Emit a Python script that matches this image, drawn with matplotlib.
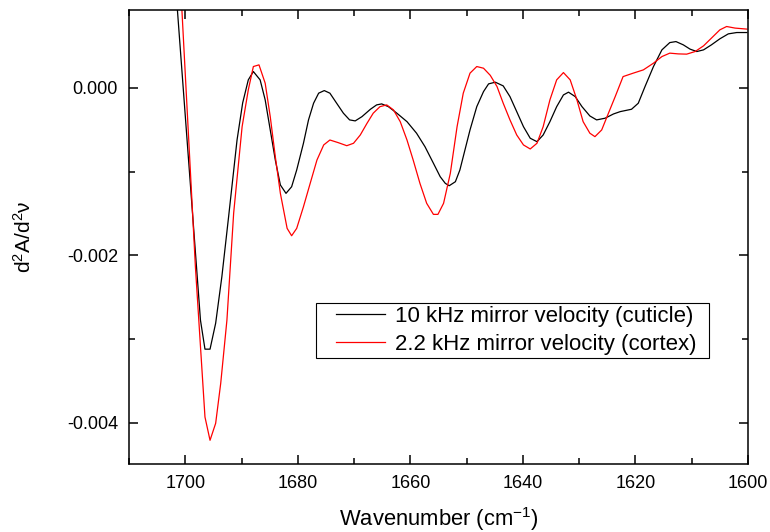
import numpy as np
import matplotlib
matplotlib.use("Agg")
import matplotlib.pyplot as plt
from matplotlib.ticker import MultipleLocator, FormatStrFormatter
from matplotlib.legend_handler import HandlerLine2D

plt.rcParams['font.family'] = ['Liberation Sans', 'DejaVu Sans']

# second derivative spectra (y in 1e-3 units)
wn_cuticle = [1702.0, 1701.4, 1697.3, 1696.5, 1695.6, 1694.6, 1693.5, 1692.3, 1690.8,
              1689.8, 1688.8, 1687.9, 1686.7, 1685.8, 1684.9, 1684.0, 1683.1, 1682.1,
              1681.1, 1680.2, 1679.0, 1678.1, 1677.2, 1676.3, 1675.3, 1674.3, 1673.1,
              1671.9, 1670.8, 1669.8, 1668.6, 1667.1, 1666.0, 1665.1, 1663.9, 1662.4,
              1660.6, 1658.9, 1657.4, 1655.9, 1654.7, 1653.8, 1653.1, 1652.0, 1651.2,
              1650.3, 1649.4, 1648.2, 1647.0, 1646.1, 1644.9, 1643.5, 1642.3, 1641.1,
              1639.9, 1638.7, 1637.5, 1636.4, 1635.2, 1634.0, 1632.8, 1631.9, 1630.7,
              1629.5, 1628.1, 1626.9, 1625.4, 1623.9, 1622.7, 1620.7, 1619.5, 1618.3,
              1616.8, 1615.3, 1613.9, 1612.8, 1611.5, 1610.3, 1609.1, 1607.9, 1606.5,
              1605.0, 1603.5, 1602.0, 1600.2]
d2_cuticle = [1.50, 0.932, -2.773, -3.119, -3.119, -2.809, -2.255, -1.538, -0.622,
              -0.179, 0.096, 0.195, 0.096, -0.143, -0.502, -0.861, -1.159, -1.259,
              -1.180, -0.980, -0.661, -0.382, -0.183, -0.063, -0.032, -0.063, -0.183,
              -0.302, -0.382, -0.394, -0.343, -0.255, -0.203, -0.191, -0.224, -0.302,
              -0.403, -0.541, -0.702, -0.900, -1.060, -1.139, -1.168, -1.120, -0.980,
              -0.741, -0.502, -0.224, -0.044, 0.048, 0.068, 0.024, -0.104, -0.283,
              -0.463, -0.601, -0.642, -0.562, -0.403, -0.224, -0.084, -0.051, -0.104,
              -0.224, -0.335, -0.382, -0.362, -0.311, -0.283, -0.255, -0.183, 0.016,
              0.255, 0.454, 0.541, 0.553, 0.514, 0.463, 0.434, 0.454, 0.514,
              0.586, 0.645, 0.661, 0.661]

wn_cortex = [1701.5, 1700.6, 1698.2, 1696.5, 1695.6, 1694.6, 1693.7, 1692.6, 1691.4,
             1689.9, 1688.8, 1687.9, 1686.9, 1685.8, 1684.9, 1684.0, 1683.1, 1681.9,
             1681.1, 1680.2, 1679.0, 1677.8, 1676.6, 1675.4, 1674.3, 1672.8, 1671.3,
             1670.1, 1668.9, 1667.7, 1666.6, 1665.4, 1664.2, 1663.0, 1661.8, 1660.6,
             1659.5, 1658.3, 1657.1, 1655.9, 1655.1, 1654.1, 1652.9, 1651.7, 1650.6,
             1649.4, 1648.2, 1647.0, 1645.8, 1644.6, 1643.5, 1642.3, 1641.1, 1639.9,
             1638.7, 1637.5, 1636.4, 1635.2, 1634.0, 1632.8, 1631.6, 1630.4, 1629.3,
             1628.1, 1627.2, 1626.0, 1624.8, 1623.6, 1622.2, 1620.4, 1618.6, 1616.8,
             1615.3, 1613.9, 1612.4, 1610.9, 1609.4, 1607.9, 1606.5, 1605.0, 1603.8,
             1602.3, 1600.2]
d2_cortex = [2.10, 0.932, -2.136, -3.929, -4.207, -4.004, -3.526, -2.773, -1.494,
             -0.463, -0.024, 0.255, 0.275, 0.056, -0.343, -0.821, -1.259, -1.677,
             -1.765, -1.677, -1.419, -1.139, -0.861, -0.681, -0.622, -0.654, -0.690,
             -0.661, -0.562, -0.422, -0.302, -0.224, -0.203, -0.263, -0.403, -0.622,
             -0.861, -1.139, -1.378, -1.510, -1.510, -1.378, -1.020, -0.463, -0.063,
             0.176, 0.255, 0.235, 0.150, 0.016, -0.183, -0.382, -0.562, -0.681,
             -0.729, -0.661, -0.463, -0.143, 0.096, 0.183, 0.096, -0.143, -0.403,
             -0.541, -0.582, -0.502, -0.302, -0.104, 0.135, 0.176, 0.215, 0.295,
             0.374, 0.415, 0.406, 0.403, 0.434, 0.502, 0.594, 0.693, 0.733,
             0.714, 0.702]

labels = ['10 kHz mirror velocity (cuticle)', '2.2 kHz mirror velocity (cortex)']


# legend line drawn only in the right part of the handle slot (leaves a left margin)
class ShortLine(HandlerLine2D):
    def get_xdata(self, legend, xdescent, ydescent, width, height, fontsize):
        x1 = -xdescent + width
        return [x1 - 2.2 * fontsize, x1], [x1 - 1.1 * fontsize]


fig = plt.figure(figsize=(7.7, 5.32), dpi=100)
ax = fig.add_axes([129/770, 68/532, 619/770, 454/532])

l1, = ax.plot(wn_cuticle, np.array(d2_cuticle) * 1e-3, color='black', lw=0.9, label=labels[0])
l2, = ax.plot(wn_cortex, np.array(d2_cortex) * 1e-3, color='red', lw=0.9, label=labels[1])

ax.set_xlim(1710, 1600)
ax.set_ylim(-0.00449, 0.00093)

ax.xaxis.set_major_locator(MultipleLocator(20))
ax.xaxis.set_minor_locator(MultipleLocator(10))
ax.yaxis.set_major_locator(MultipleLocator(0.002))
ax.yaxis.set_minor_locator(MultipleLocator(0.001))
ax.yaxis.set_major_formatter(FormatStrFormatter('%.3f'))

ax.tick_params(which='both', direction='in', top=True, right=True, width=1.1,
               labelsize=13, pad=8)
ax.tick_params(which='major', length=6.5)
ax.tick_params(which='minor', length=4)
for s in ax.spines.values():
    s.set_linewidth(1.1)

ax.set_xlabel(r'Wavenumber (cm$\mathregular{^{-1}}$)', fontsize=15.8, labelpad=9)
ax.set_ylabel('$\\mathregular{d^2A/d^2ν}$', fontsize=15, labelpad=23)

leg = ax.legend(handles=[l1, l2], loc='lower left',
                bbox_to_anchor=(0.302, 0.2335, 0.635, 0.12), mode='expand',
                fontsize=16, frameon=True, fancybox=False, edgecolor='black',
                framealpha=1, handlelength=2.95, borderpad=0.15, labelspacing=0.3,
                handletextpad=0.45, borderaxespad=0,
                handler_map={l1: ShortLine(), l2: ShortLine()})
leg.get_frame().set_linewidth(0.8)

fig.savefig('out.png', dpi=100)
